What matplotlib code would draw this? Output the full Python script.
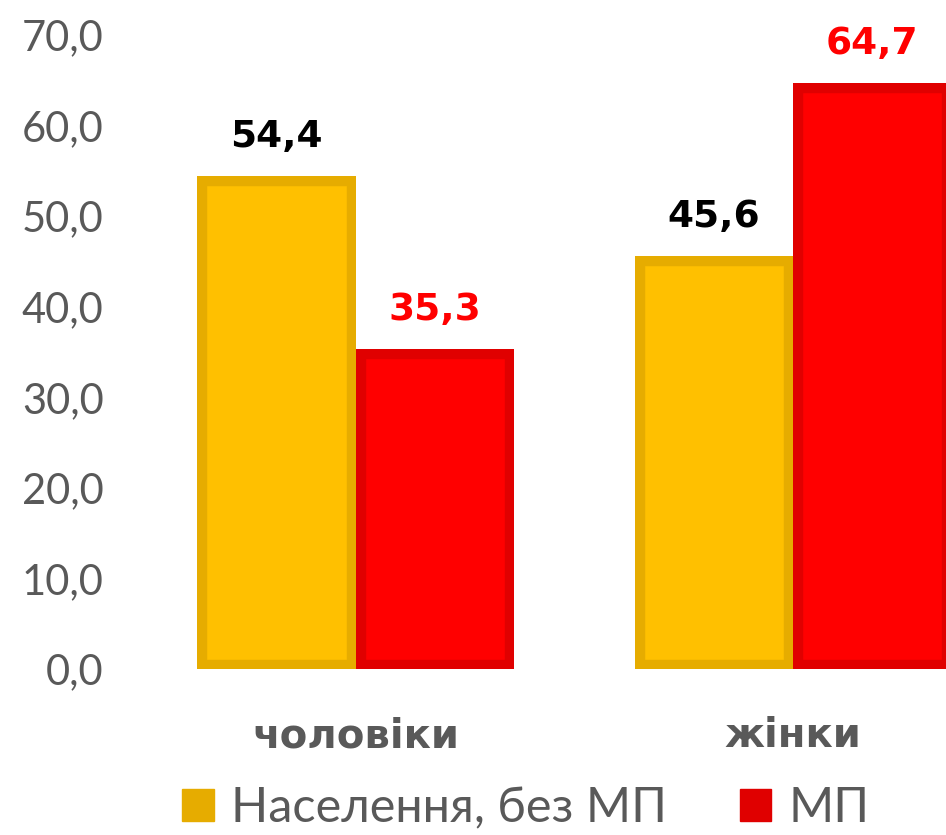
import matplotlib.pyplot as plt
from matplotlib.patches import Patch
import numpy as np

# Дані
categories = ['чоловіки', 'жінки']
series_names = ['Населення, без МП', 'МП']
no_mp = [54.4, 45.6]
mp = [35.3, 64.7]

fills = ['#FFC000', '#FF0000']
edges = ['#E6AC00', '#E00000']
label_colors = ['black', '#FF0000']
GRAY = '#595959'

fig = plt.figure(figsize=(9.46, 8.35), dpi=100)
ax = fig.add_axes([0.1448, 0.1988, 0.855, 0.7593])

x = np.arange(len(categories))
w = 0.362
for i, vals in enumerate([no_mp, mp]):
    pos = x + (i - 0.5) * w
    bars = ax.bar(pos, vals, width=w, color=fills[i], edgecolor=edges[i], linewidth=14)
    for b, v in zip(bars, vals):
        b.set_clip_path(b)  # рамка лише всередині
        ax.annotate(f'{v:.1f}'.replace('.', ','), (b.get_x() + b.get_width() / 2, v),
                    xytext=(0, 15), textcoords='offset points', ha='center', va='bottom',
                    fontsize=27, fontweight='bold', color=label_colors[i], family='DejaVu Sans')

ax.set_xlim(-0.5, 1.35)
ax.set_ylim(0, 70)
ax.set_yticks(range(0, 71, 10))
ax.set_yticklabels([f'{t},0' for t in range(0, 71, 10)], fontsize=30, color=GRAY, family='Lato')
ax.set_xticks(x)
ax.set_xticklabels(categories, fontsize=29, fontweight='bold', color=GRAY, family='DejaVu Sans')
ax.tick_params(axis='y', length=0, pad=24)
ax.tick_params(axis='x', length=0, pad=34)
for s in ax.spines.values():
    s.set_visible(False)

handles = [Patch(facecolor=edges[i], edgecolor=edges[i]) for i in range(2)]
fig.legend(handles, series_names, loc='center', bbox_to_anchor=(0.556, 0.032), ncol=2,
           frameon=False, handlelength=0.65, handleheight=0.65, handletextpad=0.35,
           columnspacing=1.5, prop={'family': 'Lato', 'size': 35}, labelcolor=GRAY)

fig.savefig('out.png', dpi=100)
